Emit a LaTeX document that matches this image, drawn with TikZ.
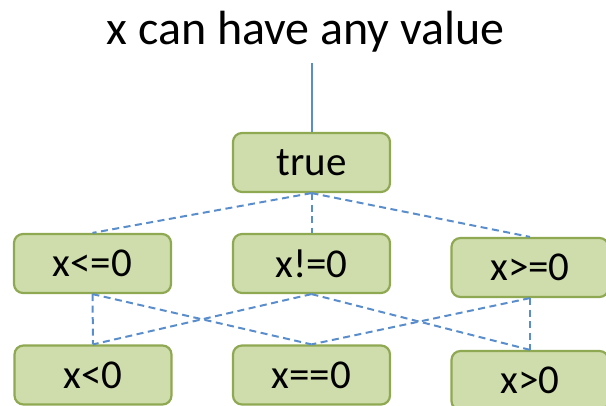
\documentclass[tikz,border=0pt]{standalone}
\usepackage{fontspec}
\setmainfont{Carlito}
\usetikzlibrary{positioning}
\definecolor{boxfill}{RGB}{207,221,173}
\definecolor{boxline}{RGB}{143,168,82}
\definecolor{linkblue}{RGB}{90,141,203}

\begin{document}
\begin{tikzpicture}[x=1pt, y=-1pt,
  state/.style={rectangle, rounded corners=9pt, draw=boxline, line width=2.2pt, fill=boxfill,
    minimum width=157pt, minimum height=59pt, inner sep=0pt, font=\fontsize{41}{45}\selectfont},
  link/.style={draw=linkblue, line width=2pt, dash pattern=on 7pt off 4.5pt}]
\useasboundingbox (0,0) rectangle (606,406);
% Title and entry line
\node[anchor=base, font=\fontsize{48}{52}\selectfont] (title) at (305.5,45) {x can have any value};
\coordinate (entry) at (311.5,63);
% Lattice
\node[state] (true) at (311.5,162.5) {true};
\node[state] (le) at (92.5,263.5) {x<=0};
\node[state] (ne) at (311.5,263.5) {x!=0};
\node[state] (ge) at (530,267.5) {x>=0};
\node[state] (lt) at (93,375) {x<0};
\node[state] (eq) at (311.5,375) {x==0};
\node[state] (gt) at (530,380.5) {x>0};
\draw[draw=linkblue, line width=2pt] (entry) -- (true.north);
\draw[link] (true.south) -- (le.north);
\draw[link] (true.south) -- (ne.north);
\draw[link] (true.south) -- (ge.north);
\draw[link] (le.south) -- (lt.north);
\draw[link] (le.south) -- (eq.north);
\draw[link] (ne.south) -- (lt.north);
\draw[link] (ne.south) -- (gt.north);
\draw[link] (ge.south) -- (eq.north);
\draw[link] (ge.south) -- (gt.north);
\end{tikzpicture}
\end{document}
